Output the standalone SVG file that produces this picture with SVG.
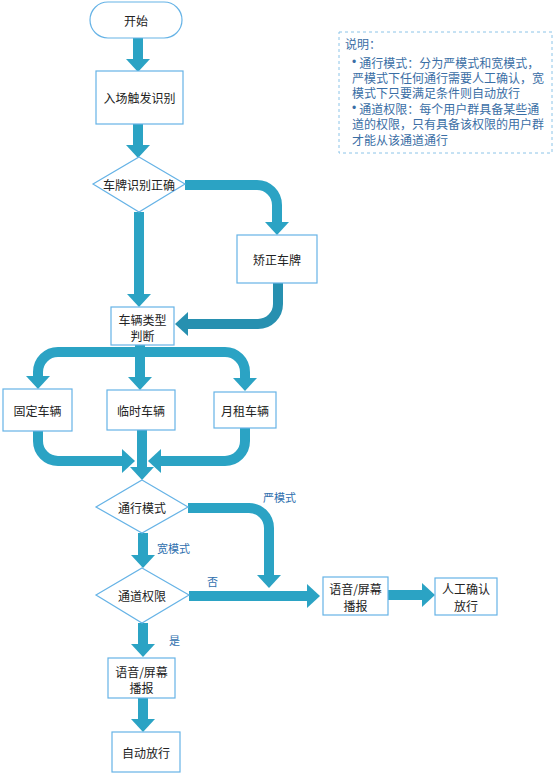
<svg xmlns="http://www.w3.org/2000/svg" width="554" height="774" viewBox="0 0 554 774">
<style>
.n{fill:#fff;stroke:#66b3e6;stroke-width:1.2}
.t{font-family:"Noto Sans CJK SC","Noto Sans",sans-serif;font-size:12px;fill:#222;text-anchor:middle;dominant-baseline:central}
.l{font-family:"Noto Sans CJK SC","Noto Sans",sans-serif;font-size:11px;fill:#2f6fae;dominant-baseline:central}
.a{fill:none;stroke:#2ba3c4;stroke-width:10}
.a2{fill:none;stroke:#2790b0;stroke-width:10}
.note{font-family:"Noto Sans CJK SC","Noto Sans",sans-serif;font-size:12px;fill:#3a6ea5;dominant-baseline:central}
.b{font-family:"Liberation Sans",sans-serif}
</style>
<defs>
<marker id="h" viewBox="0 0 13 24" refX="0" refY="12" markerWidth="13" markerHeight="24" orient="auto" markerUnits="userSpaceOnUse"><path d="M0,0 L13,12 L0,24 z" fill="#2ba3c4"/></marker>
<marker id="h2" viewBox="0 0 13 24" refX="0" refY="12" markerWidth="13" markerHeight="24" orient="auto" markerUnits="userSpaceOnUse"><path d="M0,0 L13,12 L0,24 z" fill="#2790b0"/></marker>
</defs>
<g id="connectors">
<path class="a" d="M138,38 V59" marker-end="url(#h)"/>
<path class="a" d="M138,124 V145" marker-end="url(#h)"/>
<path class="a" d="M139,212 V294" marker-end="url(#h)"/>
<path class="a" d="M185,185 H257 A20,20 0 0 1 277,205 V222" marker-end="url(#h)"/>
<path class="a2" d="M278,283 V304 A20,20 0 0 1 258,324 H188" marker-end="url(#h2)"/>
<path class="a" d="M140,345 V352 H58 A20,20 0 0 0 38,372 V376" marker-end="url(#h)"/>
<path class="a" d="M140,352 H225 A20,20 0 0 1 245,372 V378" marker-end="url(#h)"/>
<path class="a" d="M140,345 V377" marker-end="url(#h)"/>
<path class="a" d="M38,431 V441 A20,20 0 0 0 58,461 H122" marker-end="url(#h)"/>
<path class="a" d="M245,428 V441 A20,20 0 0 1 225,461 H161" marker-end="url(#h)"/>
<path class="a" d="M142,430 V467" marker-end="url(#h)"/>
<path class="a" d="M188,508 H249 A20,20 0 0 1 269,528 V575" marker-end="url(#h)"/>
<path class="a" d="M143,533 V555" marker-end="url(#h)"/>
<path class="a" d="M189,596 H307" marker-end="url(#h)"/>
<path class="a" d="M143,623 V644" marker-end="url(#h)"/>
<path class="a" d="M388,595 H422" marker-end="url(#h)"/>
<path class="a" d="M143,698 V719" marker-end="url(#h)"/>
<text class="l" x="263" y="497">严模式</text>
<text class="l" x="157" y="548">宽模式</text>
<text class="l" x="207" y="581">否</text>
<text class="l" x="169" y="640">是</text>
</g>
<g id="start"><rect class="n" x="90" y="2" width="92" height="36" rx="18"/><text class="t" x="136" y="20">开始</text></g>
<g id="entry"><rect class="n" x="96" y="71" width="87" height="53"/><text class="t" x="139.5" y="97.5">入场触发识别</text></g>
<g id="plateOk"><polygon class="n" points="139,157 185,184 139,212 93,184"/><text class="t" x="139" y="184">车牌识别正确</text></g>
<g id="fixPlate"><rect class="n" x="237" y="235" width="80" height="48"/><text class="t" x="277" y="259">矫正车牌</text></g>
<g id="vehType"><rect class="n" x="111" y="307" width="63" height="38"/><text class="t" x="142.5" y="319">车辆类型</text><text class="t" x="142.5" y="335">判断</text></g>
<g id="fixed"><rect class="n" x="3" y="389" width="69" height="42"/><text class="t" x="37.5" y="410">固定车辆</text></g>
<g id="temp"><rect class="n" x="107" y="390" width="68" height="40"/><text class="t" x="141" y="410">临时车辆</text></g>
<g id="monthly"><rect class="n" x="214" y="392" width="62" height="36"/><text class="t" x="245" y="410">月租车辆</text></g>
<g id="passMode"><polygon class="n" points="142,480 188,507 142,533 96,507"/><text class="t" x="142" y="507">通行模式</text></g>
<g id="channelPerm"><polygon class="n" points="142,568 189,595 142,623 96,595"/><text class="t" x="142" y="595">通道权限</text></g>
<g id="voiceRight"><rect class="n" x="323" y="577" width="65" height="38"/><text class="t" x="355.5" y="588">语音/屏幕</text><text class="t" x="355.5" y="605">播报</text></g>
<g id="manual"><rect class="n" x="435" y="578" width="62" height="37"/><text class="t" x="466" y="588">人工确认</text><text class="t" x="466" y="605">放行</text></g>
<g id="voiceDown"><rect class="n" x="108" y="658" width="67" height="40"/><text class="t" x="141.5" y="671">语音/屏幕</text><text class="t" x="141.5" y="687">播报</text></g>
<g id="autoPass"><rect class="n" x="112" y="732" width="68" height="40"/><text class="t" x="146" y="752">自动放行</text></g>
<g id="note">
<rect x="339" y="32" width="213" height="121" fill="#fff" stroke="#8cc4e8" stroke-width="1" stroke-dasharray="3,3"/>
<text class="note"><tspan x="345" y="43">说明：</tspan><tspan x="352" y="62" class="b">•</tspan><tspan dx="3">通行模式：分为严模式和宽模式，</tspan><tspan x="352" y="77">严模式下任何通行需要人工确认，宽</tspan><tspan x="352" y="92">模式下只要满足条件则自动放行</tspan><tspan x="352" y="108" class="b">•</tspan><tspan dx="3">通道权限：每个用户群具备某些通</tspan><tspan x="352" y="123">道的权限，只有具备该权限的用户群</tspan><tspan x="352" y="139">才能从该通道通行</tspan></text>
</g>
</svg>
